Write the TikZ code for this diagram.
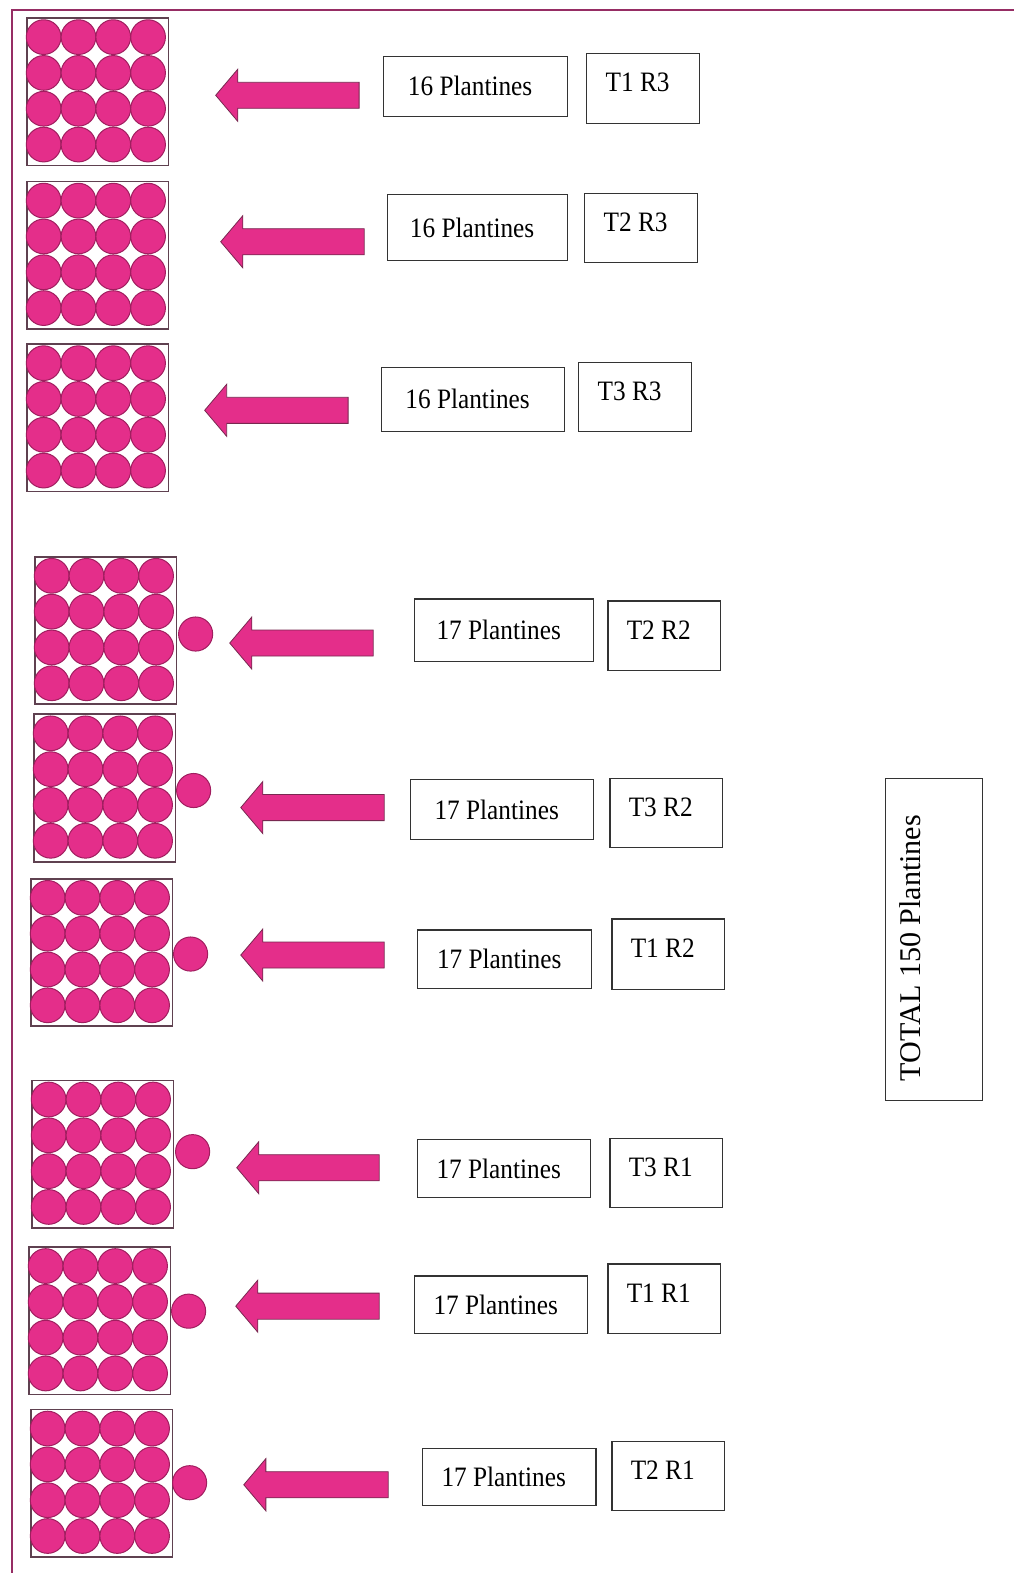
\documentclass[tikz,border=0pt]{standalone}
\usepackage{fontspec}
\setmainfont{Liberation Serif}
\definecolor{pinkfill}{RGB}{228,46,138}
\definecolor{pinkline}{RGB}{160,30,95}
\definecolor{framecol}{RGB}{150,45,100}
\definecolor{gridcol}{RGB}{95,65,80}
\definecolor{arrowline}{RGB}{120,40,80}
\tikzset{
  plant/.style={fill=pinkfill,draw=pinkline,line width=1pt},
  gridbox/.style={draw=gridcol,line width=1.8pt,fill=white,minimum width=141pt,minimum height=147pt,inner sep=0pt},
  blockarrow/.style={fill=pinkfill,draw=arrowline,line width=0.8pt,line join=miter},
  tbox/.style={draw=black!80,line width=1.2pt,inner sep=0pt},
  lbl/.style={font=\fontsize{28}{32}\selectfont,xscale=0.9,text height=19pt,text depth=0pt,inner sep=0pt,xshift=-6pt},
}
\newcommand\plgrid[3]{%
  \node[gridbox] (#1) at (#2+70.5,#3+73.5) {};
  \foreach \ci in {0,...,3}{\foreach \cj in {0,...,3}{
    \draw[plant] (#2+16.5+34.7*\ci,#3+19+35.7*\cj) circle (17.3);}}%
}
\newcommand\blkarrow[3]{%
  \draw[blockarrow] (#1,#2) -- (#1+22,#2-26) -- (#1+22,#2-13) -- (#3,#2-13)
    -- (#3,#2+13) -- (#1+22,#2+13) -- (#1+22,#2+26) -- cycle;%
}
\begin{document}
\begin{tikzpicture}[x=1pt,y=-1pt]
\useasboundingbox (0,0) rectangle (1010,1568);
% frame
\draw[framecol,line width=2.8pt] (12,1570) -- (12,10) -- (1012,10);
% grids
\plgrid{g1}{27}{18}
\plgrid{g2}{27}{181}
\plgrid{g3}{27}{343}
\plgrid{g4}{35}{555}
\plgrid{g5}{34}{712}
\plgrid{g6}{31}{876}
\plgrid{g7}{32}{1077}
\plgrid{g8}{29}{1243}
\plgrid{g9}{31}{1405}
% extra plants
\node[plant,circle,minimum size=34pt,inner sep=0pt] (e4) at (195,632) {};
\node[plant,circle,minimum size=34pt,inner sep=0pt] (e5) at (193,788) {};
\node[plant,circle,minimum size=34pt,inner sep=0pt] (e6) at (190,951) {};
\node[plant,circle,minimum size=34pt,inner sep=0pt] (e7) at (192,1148) {};
\node[plant,circle,minimum size=34pt,inner sep=0pt] (e8) at (188,1307) {};
\node[plant,circle,minimum size=34pt,inner sep=0pt] (e9) at (189,1478) {};
% arrows
\blkarrow{215}{95}{358}
\blkarrow{220}{241}{363}
\blkarrow{204}{409}{347}
\blkarrow{229}{641}{372}
\blkarrow{240}{805}{383}
\blkarrow{240}{952}{383}
\blkarrow{236}{1164}{378}
\blkarrow{235}{1302}{378}
\blkarrow{243}{1480}{387}
% plantines boxes
\node[tbox,minimum width=184pt,minimum height=60pt] (p1) at (474,86) {};
\node[tbox,minimum width=180pt,minimum height=66pt] (p2) at (476,227) {};
\node[tbox,minimum width=183pt,minimum height=64pt] (p3) at (471.5,398) {};
\node[tbox,minimum width=179pt,minimum height=62pt] (p4) at (502.5,628) {};
\node[tbox,minimum width=183pt,minimum height=60pt] (p5) at (500.5,807) {};
\node[tbox,minimum width=174pt,minimum height=58pt] (p6) at (503,956) {};
\node[tbox,minimum width=173pt,minimum height=58pt] (p7) at (502.5,1165) {};
\node[tbox,minimum width=173pt,minimum height=57pt] (p8) at (499.5,1300.5) {};
\node[tbox,minimum width=173pt,minimum height=57pt] (p9) at (507.5,1472.5) {};
\node[lbl] (p1t) at (p1.center) {16 Plantines};
\node[lbl] (p2t) at (p2.center) {16 Plantines};
\node[lbl] (p3t) at (p3.center) {16 Plantines};
\node[lbl] (p4t) at (p4.center) {17 Plantines};
\node[lbl] (p5t) at (p5.center) {17 Plantines};
\node[lbl] (p6t) at (p6.center) {17 Plantines};
\node[lbl] (p7t) at (p7.center) {17 Plantines};
\node[lbl] (p8t) at (p8.center) {17 Plantines};
\node[lbl] (p9t) at (p9.center) {17 Plantines};
% T boxes
\node[tbox,minimum width=112pt,minimum height=70pt] (t1) at (641,88) {};
\node[tbox,minimum width=112pt,minimum height=69pt] (t2) at (639,227.5) {};
\node[tbox,minimum width=112pt,minimum height=69pt] (t3) at (633,395.5) {};
\node[tbox,minimum width=112pt,minimum height=69pt] (t4) at (662,633.5) {};
\node[tbox,minimum width=112pt,minimum height=69pt] (t5) at (664,810.5) {};
\node[tbox,minimum width=112pt,minimum height=70pt] (t6) at (666,951) {};
\node[tbox,minimum width=112pt,minimum height=69pt] (t7) at (664,1169.5) {};
\node[tbox,minimum width=112pt,minimum height=69pt] (t8) at (662,1294.5) {};
\node[tbox,minimum width=112pt,minimum height=69pt] (t9) at (666,1471.5) {};
\node[lbl,yshift=6pt] (t1t) at (t1.center) {T1 R3};
\node[lbl,yshift=6pt] (t2t) at (t2.center) {T2 R3};
\node[lbl,yshift=6pt] (t3t) at (t3.center) {T3 R3};
\node[lbl,yshift=6pt] (t4t) at (t4.center) {T2 R2};
\node[lbl,yshift=6pt] (t5t) at (t5.center) {T3 R2};
\node[lbl,yshift=6pt] (t6t) at (t6.center) {T1 R2};
\node[lbl,yshift=6pt] (t7t) at (t7.center) {T3 R1};
\node[lbl,yshift=6pt] (t8t) at (t8.center) {T1 R1};
\node[lbl,yshift=6pt] (t9t) at (t9.center) {T2 R1};
% total
\node[tbox,minimum width=96pt,minimum height=321pt] (tot) at (931,936.5) {};
\node[font=\fontsize{30}{34}\selectfont,rotate=90,inner sep=0pt] (tott) at (907,945) {TOTAL 150 Plantines};
\end{tikzpicture}
\end{document}
